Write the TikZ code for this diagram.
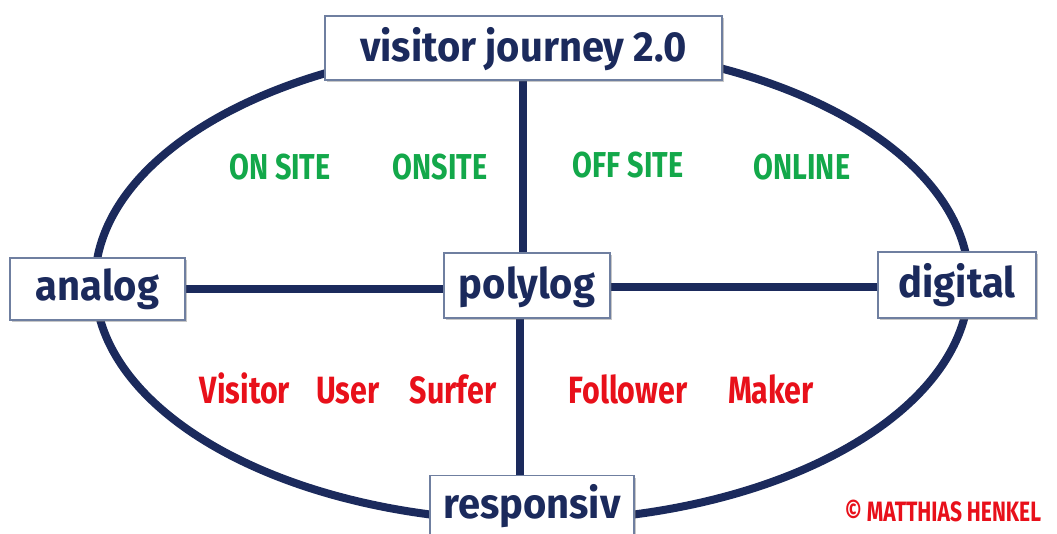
\documentclass[tikz,border=0pt]{standalone}
\usepackage{fontspec}
\setmainfont{Fira Sans}
\newfontfamily\boxfont{Fira Sans}[UprightFont=* Bold, FakeStretch=0.95]
\newfontfamily\tagfont{Fira Sans}[UprightFont=* Bold, FakeStretch=0.8]
\newfontfamily\notefont{Fira Sans}[UprightFont=* Bold, FakeStretch=0.75]
\usetikzlibrary{shadows}
\definecolor{navy}{HTML}{1B2A5C}
\definecolor{boxline}{HTML}{6F7FA0}
\definecolor{tagGreen}{HTML}{13A84A}
\definecolor{tagRed}{HTML}{E8101A}
\tikzset{
  frame/.style={draw=boxline, line width=1.2pt, fill=white, inner sep=0pt,
    drop shadow={shadow xshift=2pt, shadow yshift=-2pt, opacity=0.25}},
  boxtext/.style={font=\boxfont\fontsize{42}{42}\selectfont, text=navy, anchor=base},
  spoke/.style={draw=navy, line width=8pt},
  onsite/.style={font=\tagfont\fontsize{36}{36}\selectfont, text=tagGreen, anchor=base},
  persona/.style={font=\tagfont\fontsize{38}{38}\selectfont, text=tagRed, anchor=base},
}
\begin{document}
\begin{tikzpicture}[x=1pt, y=-1pt]
\useasboundingbox (0,0) rectangle (1057,534);
% outer ring
\draw[navy, line width=8pt] (532,283) ellipse [x radius=437, y radius=238];
% box outlines, placed first so the spokes can run between them
\node[frame, minimum width=397pt, minimum height=64pt] (top) at (523.5,48) {};
\node[frame, minimum width=175pt, minimum height=62pt] (analog) at (97.5,289) {};
\node[frame, minimum width=166pt, minimum height=65pt] (poly) at (527,285.5) {};
\node[frame, minimum width=158pt, minimum height=66pt] (digital) at (957,285) {};
\node[frame, minimum width=204pt, minimum height=70pt, anchor=north] (resp) at (532,475) {};
% spokes
\draw[spoke] (top.south -| 523,0) -- (poly.north -| 523,0);
\draw[spoke] (poly.south -| 520,0) -- (resp.north -| 520,0);
\draw[spoke] (analog.east) -- (poly.west |- analog.east);
\draw[spoke] (poly.east |- 0,287) -- (digital.west |- 0,287);
% redraw boxes over spokes
\node[frame, minimum width=397pt, minimum height=64pt] at (top) {};
\node[frame, minimum width=175pt, minimum height=62pt] at (analog) {};
\node[frame, minimum width=166pt, minimum height=65pt] at (poly) {};
\node[frame, minimum width=158pt, minimum height=66pt] at (digital) {};
\node[frame, minimum width=204pt, minimum height=70pt, anchor=north] at (resp.north) {};
% box labels, set on a common baseline inside each box
\node[boxtext] (topt) at (523.5,62) {visitor journey 2.0};
\node[boxtext] (analogt) at (97.5,301) {analog};
\node[boxtext] (polyt) at (527,299) {polylog};
\node[boxtext] (digitalt) at (957,298) {digital};
\node[boxtext] (respt) at (532,518) {responsiv};
% channel tags
\node[onsite] (t1) at (280,180) {ON SITE};
\node[onsite] (t2) at (440,180) {ONSITE};
\node[onsite] (t3) at (628,178) {OFF SITE};
\node[onsite] (t4) at (802,180) {ONLINE};
% personas
\node[persona] (p1) at (245,403) {Visitor};
\node[persona] (p2) at (348,403) {User};
\node[persona] (p3) at (453,403) {Surfer};
\node[persona] (p4) at (628,403) {Follower};
\node[persona] (p5) at (771,403) {Maker};
% copyright
\node[font=\notefont\fontsize{28}{28}\selectfont, text=tagRed, anchor=base] (copy) at (943,521) {© MATTHIAS HENKEL};
\end{tikzpicture}
\end{document}
